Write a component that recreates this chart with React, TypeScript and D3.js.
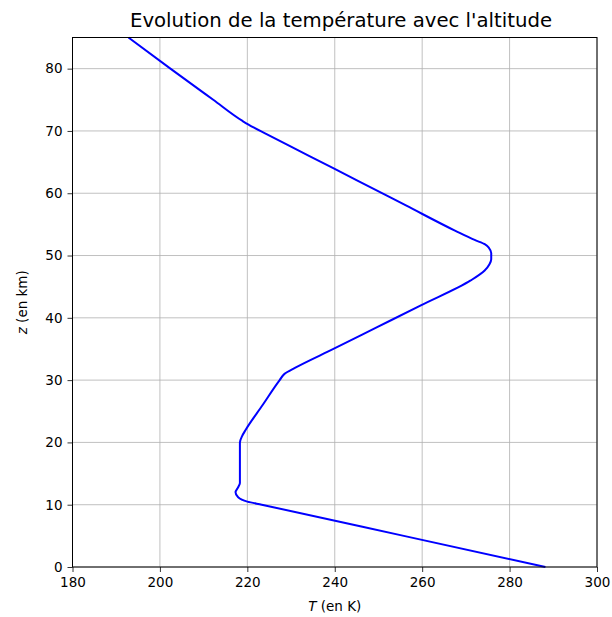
import React, { useEffect, useRef } from "react";
import * as d3 from "d3";

// altitude (km) and temperature (K)
const altitudes = [
  0, 5, 10, 10.5, 11.2, 12, 12.8, 13.5, 16.5, 20, 21, 22, 26, 30, 31, 32, 35,
  38.5, 42, 46, 47.6, 48.6, 49.4, 50.4, 51.2, 51.8, 52.5, 54, 58, 62, 66, 69.5,
  70.6, 71.6, 75, 80, 85,
];
const temperatures = [
  288.2, 255.8, 223.3, 220.0, 217.9, 217.3, 217.9, 218.3, 218.3, 218.3, 218.8,
  219.6, 223.5, 227.4, 228.5, 231.0, 239.7, 249.7, 259.7, 271.1, 274.3, 275.4,
  275.8, 275.8, 275.3, 274.4, 272.0, 267.5, 256.4, 245.3, 234.1, 224.4, 221.3,
  218.9, 212.2, 202.4, 192.8,
];
const xTicks = [180, 200, 220, 240, 260, 280, 300];
const yTicks = [0, 10, 20, 30, 40, 50, 60, 70, 80];

const W = 612;
const H = 617;
const margin = { top: 37.5, right: 15, bottom: 50, left: 72.5 };

const App = () => {
  const svgRef = useRef<SVGSVGElement>(null);

  useEffect(() => {
    const svg = d3.select(svgRef.current);
    svg.selectAll("*").remove();

    const x = d3.scaleLinear().domain([180, 300]).range([margin.left, W - margin.right]);
    const y = d3.scaleLinear().domain([0, 85]).range([H - margin.bottom, margin.top]);

    const font = "DejaVu Sans, sans-serif";

    // grid
    const grid = svg.append("g").attr("stroke", "#b0b0b0").attr("stroke-width", 0.8);
    grid
      .selectAll("line.gx")
      .data(xTicks)
      .join("line")
      .attr("x1", (d) => x(d))
      .attr("x2", (d) => x(d))
      .attr("y1", y(0))
      .attr("y2", y(85));
    grid
      .selectAll("line.gy")
      .data(yTicks)
      .join("line")
      .attr("x1", x(180))
      .attr("x2", x(300))
      .attr("y1", (d) => y(d))
      .attr("y2", (d) => y(d));

    // the profile
    const pts = altitudes.map((z, i) => [temperatures[i], z] as [number, number]);
    const line = d3
      .line<[number, number]>()
      .x((d) => x(d[0]))
      .y((d) => y(d[1]))
      .curve(d3.curveMonotoneY);

    svg
      .append("path")
      .datum(pts)
      .attr("d", line)
      .attr("fill", "none")
      .attr("stroke", "#0000ff")
      .attr("stroke-width", 2)
      .attr("stroke-linejoin", "round");

    // axes
    const xAxis = svg
      .append("g")
      .attr("transform", `translate(0,${y(0)})`)
      .call(d3.axisBottom(x).tickValues(xTicks).tickSize(5).tickPadding(5).tickSizeOuter(0));
    const yAxis = svg
      .append("g")
      .attr("transform", `translate(${x(180)},0)`)
      .call(d3.axisLeft(y).tickValues(yTicks).tickSize(5).tickPadding(5).tickSizeOuter(0));
    [xAxis, yAxis].forEach((a) => {
      a.select(".domain").remove();
      a.selectAll("line").attr("stroke", "#000").attr("stroke-width", 0.8);
      a.selectAll("text").attr("font-family", font).attr("font-size", 13.5).attr("fill", "#000");
    });

    // frame
    svg
      .append("rect")
      .attr("x", x(180))
      .attr("y", y(85))
      .attr("width", x(300) - x(180))
      .attr("height", y(0) - y(85))
      .attr("fill", "none")
      .attr("stroke", "#000")
      .attr("stroke-width", 1);

    // title & labels
    svg
      .append("text")
      .attr("x", 341)
      .attr("y", 27)
      .attr("text-anchor", "middle")
      .attr("font-family", font)
      .attr("font-size", 19.7)
      .text("Evolution de la température avec l'altitude");

    const xl = svg
      .append("text")
      .attr("x", (x(180) + x(300)) / 2)
      .attr("y", 611)
      .attr("text-anchor", "middle")
      .attr("font-family", font)
      .attr("font-size", 13.5);
    xl.append("tspan").attr("font-style", "italic").text("T");
    xl.append("tspan").text(" (en K)");

    const yl = svg
      .append("text")
      .attr("transform", `translate(27,${(y(0) + y(85)) / 2}) rotate(-90)`)
      .attr("text-anchor", "middle")
      .attr("font-family", font)
      .attr("font-size", 13.5);
    yl.append("tspan").attr("font-style", "italic").text("z");
    yl.append("tspan").text(" (en km)");
  }, []);

  return (
    <svg
      ref={svgRef}
      width={W}
      height={H}
      style={{ position: "absolute", left: 0, top: 0, background: "#fff" }}
    />
  );
};

export default App;
